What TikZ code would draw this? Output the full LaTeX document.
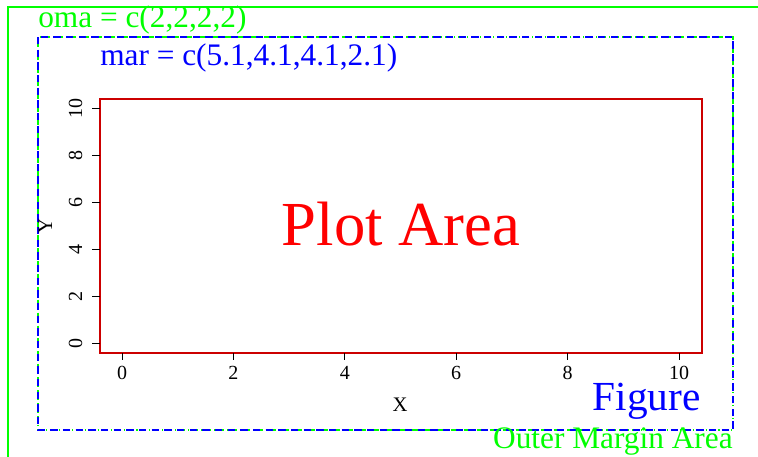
\documentclass[tikz,border=0pt]{standalone}
\usepackage{fontspec}
\setmainfont{Liberation Serif}
\definecolor{plotred}{RGB}{204,0,0}
\definecolor{rgreen}{RGB}{0,255,0}
\definecolor{rblue}{RGB}{0,0,255}
\begin{document}
\begin{tikzpicture}[x=0.75pt,y=-0.75pt,
    ticklab/.style={font=\fontsize{15}{15}\selectfont,inner sep=0pt},
    marglab/.style={font=\fontsize{23.5}{23.5}\selectfont,inner sep=0pt}]
    \clip (0,0) rectangle (758,457);
    % outer margin and figure region
    \draw[rgreen,line width=0.8pt] (8,7) rectangle (800,500);
    \draw[rgreen,line width=0.8pt,dash pattern=on 0.8pt off 2.2pt on 4.5pt off 2.2pt] (38,37) rectangle (733,430);
    \draw[rblue,line width=0.8pt,dash pattern=on 5.5pt off 4pt] (38,37) rectangle (733,430);
    \node[marglab,rgreen,anchor=base west] (oma) at (38,27) {oma = c(2,2,2,2)};
    \node[marglab,rblue,anchor=base west] (mar) at (100,65) {mar = c(5.1,4.1,4.1,2.1)};
    % plot box and axes
    \draw[plotred,line width=1.3pt] (100,99) rectangle (702,353);
    \foreach \v in {0,2,...,10}{
        \draw[line width=0.7pt] (122+55.7*\v,353) -- (122+55.7*\v,360);
        \node[ticklab,anchor=base] (xt\v) at (122+55.7*\v,379.5) {\v};
        \draw[line width=0.7pt] (100,343-23.5*\v) -- (92,343-23.5*\v);
        \node[ticklab,anchor=base,rotate=90] (yt\v) at (82,343-23.5*\v) {\v};
    }
    \node[ticklab,font=\fontsize{15.5}{15.5}\selectfont,anchor=base] (xlab) at (400,411) {X};
    \node[ticklab,font=\fontsize{15.5}{15.5}\selectfont,anchor=base,rotate=90] (ylab) at (52,226) {Y};
    \node[plotred,text=red,font=\fontsize{47}{47}\selectfont,inner sep=0pt,anchor=base] (plot) at (401,245) {Plot Area};
    \node[rblue,font=\fontsize{31}{31}\selectfont,inner sep=0pt,anchor=base east] (fig) at (701,410) {Figure};
    \node[marglab,rgreen,anchor=base east] (outer) at (733,448) {Outer Margin Area};
\end{tikzpicture}
\end{document}
